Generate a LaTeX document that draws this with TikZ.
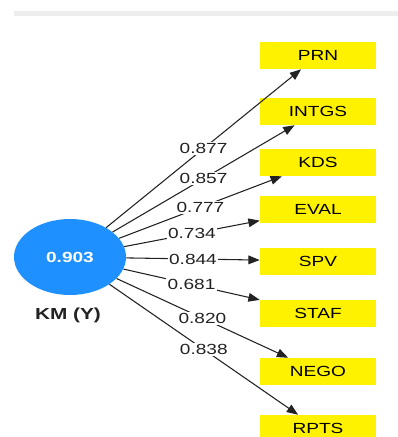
\documentclass[tikz,border=0pt]{standalone}
\usepackage{fontspec}
\newfontfamily\arialw[FakeStretch=1.3]{Liberation Sans}
\usetikzlibrary{arrows.meta,shapes.geometric}
\definecolor{kmblue}{HTML}{1E90FF}
\definecolor{bargray}{HTML}{EEEEEE}
\definecolor{ldgray}{HTML}{222222}
\tikzset{
  >={Triangle[length=8.5pt,width=6.5pt]},
  lat/.style={ellipse,fill=kmblue,minimum width=84pt,minimum height=57pt,inner sep=0pt,
    text=white,font=\arialw\fontsize{11}{13}\selectfont\bfseries},
  ind/.style={rectangle,fill=yellow,minimum width=87pt,minimum height=20.25pt,inner sep=0pt,
    font=\arialw\fontsize{11}{13}\selectfont},
  ld/.style={midway,fill=white,inner sep=1pt,text=ldgray,font=\arialw\fontsize{11}{13}\selectfont},
  lk/.style={->,draw=ldgray,line width=0.8pt},
}
\begin{document}
\begin{tikzpicture}[x=0.75pt,y=-0.75pt]
\path[use as bounding box,clip] (0,0) rectangle (398,437);
\fill[bargray] (14,10.5) rectangle (398,16);
\node[lat] (km) at (70,257){0.903};
\node[font=\arialw\fontsize{12}{14}\selectfont\bfseries,text=ldgray] (kmlab) at (68,315){KM (Y)};
\node[ind] (prn) at (318,55.5){PRN}; \node[ind] (intgs) at (318,111.5){INTGS};
\node[ind] (kds) at (318,162.5){KDS}; \node[ind] (eval) at (318,209.5){EVAL};
\node[ind] (spv) at (318,261){SPV}; \node[ind] (staf) at (318,313){STAF};
\node[ind] (nego) at (318,371.5){NEGO}; \node[ind] (rpts) at (318,428.5){RPTS};
\draw[lk] (km)--node[ld]{0.877}(prn); \draw[lk] (km)--node[ld]{0.857}(intgs);
\draw[lk] (km)--node[ld]{0.777}(kds); \draw[lk] (km)--node[ld]{0.734}(eval);
\draw[lk] (km)--node[ld]{0.844}(spv); \draw[lk] (km)--node[ld]{0.681}(staf);
\draw[lk] (km)--node[ld]{0.820}(nego); \draw[lk] (km)--node[ld]{0.838}(rpts);
\end{tikzpicture}
\end{document}
